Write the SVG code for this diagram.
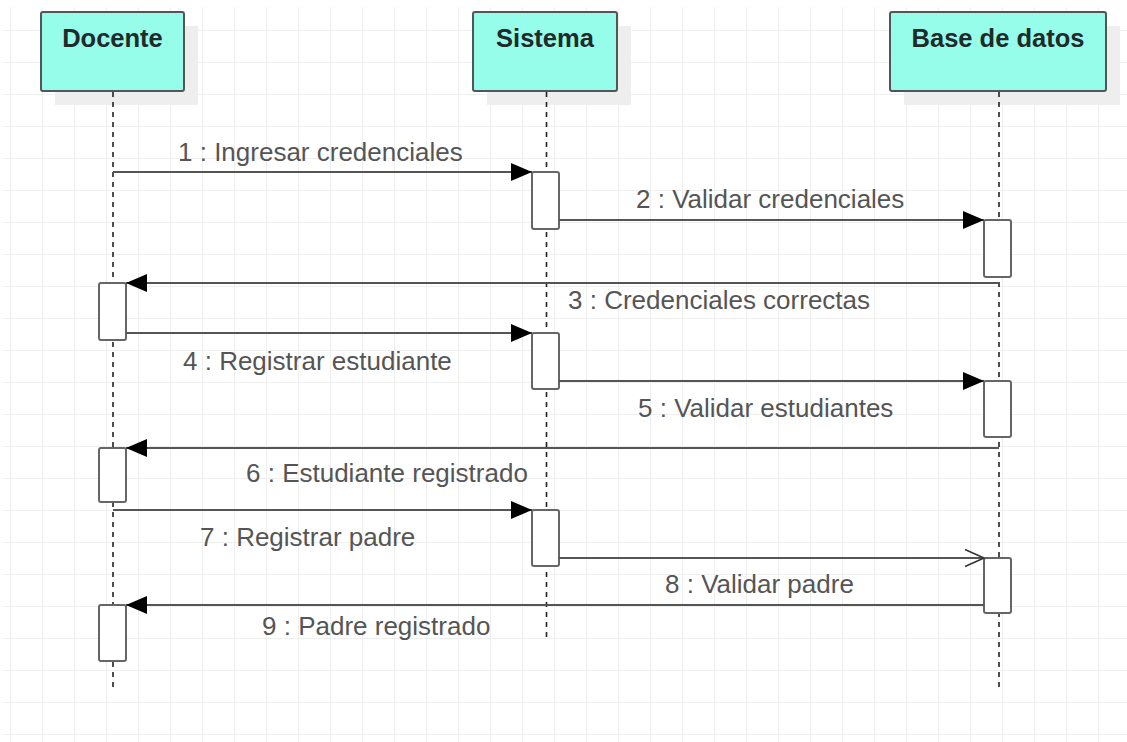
<svg xmlns="http://www.w3.org/2000/svg" width="1127" height="742" viewBox="0 0 1127 742">
<defs>
<pattern id="grid" patternUnits="userSpaceOnUse" x="10" y="30" width="32" height="32">
<path d="M0 0H32M0 0V32" fill="none" stroke="#efefef" stroke-width="2"/>
</pattern>
<marker id="filled" markerUnits="userSpaceOnUse" markerWidth="24" markerHeight="20" refX="21" refY="9" orient="auto">
<path d="M0 0L21 9L0 18Z" fill="#000"/>
</marker>
<marker id="open" markerUnits="userSpaceOnUse" markerWidth="24" markerHeight="22" refX="20" refY="10" orient="auto">
<path d="M1 1.5L20 10L1 18.5" fill="none" stroke="#333" stroke-width="1.6"/>
</marker>
</defs>
<style>
.head{fill:#95fde9;stroke:#555;stroke-width:2}
.shadow{fill:#eeeeee}
.title{font-family:"Liberation Sans",Arial,sans-serif;font-weight:bold;font-size:25.5px;fill:#1e2b2a;text-anchor:middle}
.life{stroke:#222;stroke-width:1.6;stroke-dasharray:5 5;fill:none}
.act{fill:#fff;stroke:#666;stroke-width:2}
.msg{stroke:#555;stroke-width:2;fill:none}
.lbl{font-family:"Liberation Sans",Arial,sans-serif;font-size:26px;fill:#555}
</style>
<rect x="3" y="7" width="1124" height="735" fill="#fff"/>
<rect x="3" y="7" width="1124" height="735" fill="url(#grid)"/>

<g id="docente">
<rect class="shadow" x="55" y="26" width="143" height="79"/>
<rect class="head" x="41" y="12" width="143" height="79" rx="2"/>
<text class="title" x="112.5" y="47">Docente</text>
<line class="life" x1="113" y1="92" x2="113" y2="689"/>
<rect class="act" x="99" y="283" width="27" height="57" rx="2"/>
<rect class="act" x="99" y="448" width="27" height="54" rx="2"/>
<rect class="act" x="99" y="605" width="27" height="56" rx="2"/>
</g>

<g id="sistema">
<rect class="shadow" x="487" y="26" width="144" height="79"/>
<rect class="head" x="473" y="12" width="144" height="79" rx="2"/>
<text class="title" x="545" y="47">Sistema</text>
<line class="life" x1="546.5" y1="92" x2="546.5" y2="641"/>
<rect class="act" x="532" y="172" width="27" height="57" rx="2"/>
<rect class="act" x="532" y="333" width="27" height="56" rx="2"/>
<rect class="act" x="532" y="510" width="27" height="56" rx="2"/>
</g>

<g id="base-de-datos">
<rect class="shadow" x="904" y="26" width="216" height="79"/>
<rect class="head" x="890" y="12" width="216" height="79" rx="2"/>
<text class="title" x="998" y="47">Base de datos</text>
<line class="life" x1="999" y1="92" x2="999" y2="689"/>
<rect class="act" x="984" y="220" width="27" height="57" rx="2"/>
<rect class="act" x="984" y="381" width="27" height="56" rx="2"/>
<rect class="act" x="984" y="558" width="27" height="55" rx="2"/>
</g>

<g id="connectors">
<line class="msg" x1="113" y1="172" x2="532" y2="172" marker-end="url(#filled)"/>
<line class="msg" x1="559" y1="220" x2="984" y2="220" marker-end="url(#filled)"/>
<line class="msg" x1="999" y1="283" x2="126" y2="283" marker-end="url(#filled)"/>
<line class="msg" x1="126" y1="333" x2="532" y2="333" marker-end="url(#filled)"/>
<line class="msg" x1="559" y1="381" x2="984" y2="381" marker-end="url(#filled)"/>
<line class="msg" x1="999" y1="448" x2="126" y2="448" marker-end="url(#filled)"/>
<line class="msg" x1="113" y1="510" x2="532" y2="510" marker-end="url(#filled)"/>
<line class="msg" x1="559" y1="558" x2="984" y2="558" marker-end="url(#open)"/>
<line class="msg" x1="984" y1="605" x2="126" y2="605" marker-end="url(#filled)"/>
<text class="lbl" x="178" y="161">1 : Ingresar credenciales</text>
<text class="lbl" x="636" y="208">2 : Validar credenciales</text>
<text class="lbl" x="568" y="309">3 : Credenciales correctas</text>
<text class="lbl" x="183" y="370">4 : Registrar estudiante</text>
<text class="lbl" x="638" y="417">5 : Validar estudiantes</text>
<text class="lbl" x="246" y="482">6 : Estudiante registrado</text>
<text class="lbl" x="200" y="546">7 : Registrar padre</text>
<text class="lbl" x="665" y="593">8 : Validar padre</text>
<text class="lbl" x="262" y="635">9 : Padre registrado</text>
</g>
</svg>
